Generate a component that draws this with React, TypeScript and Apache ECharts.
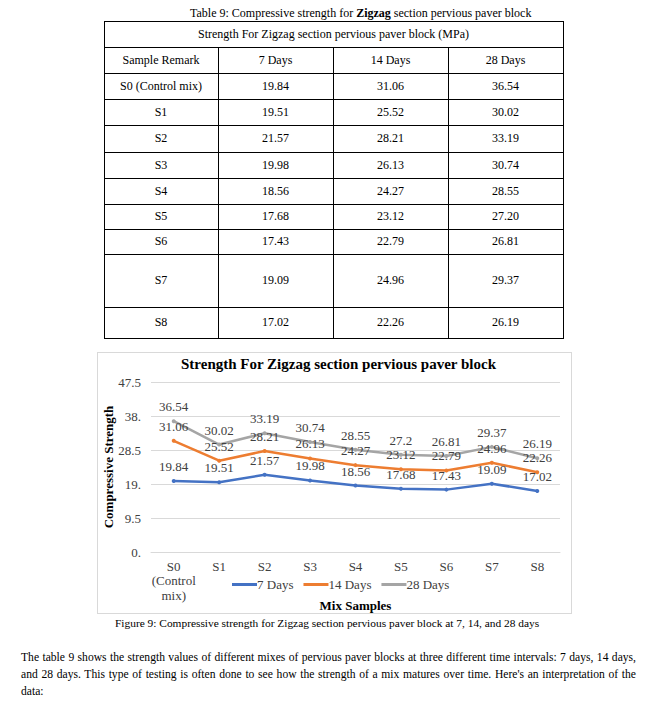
import React, { useEffect, useRef } from "react";
import * as echarts from "echarts";

const samples = ["S0", "S1", "S2", "S3", "S4", "S5", "S6", "S7", "S8"];
const tableRemarks = ["S0 (Control mix)", "S1", "S2", "S3", "S4", "S5", "S6", "S7", "S8"];
const xLabels = ["S0\n(Control\nmix)", "S1", "S2", "S3", "S4", "S5", "S6", "S7", "S8"];
const seriesNames = ["7 Days", "14 Days", "28 Days"];
const days7 = [19.84, 19.51, 21.57, 19.98, 18.56, 17.68, 17.43, 19.09, 17.02];
const days14 = [31.06, 25.52, 28.21, 26.13, 24.27, 23.12, 22.79, 24.96, 22.26];
const days28 = [36.54, 30.02, 33.19, 30.74, 28.55, 27.2, 26.81, 29.37, 26.19];
const yTickLabels = ["0.", "9.5", "19.", "28.5", "38.", "47.5"];
const colors = ["#4472C4", "#ED7D31", "#A5A5A5"];
const paragraphLines = [
  "The table 9 shows the strength values of different mixes of pervious paver blocks at three different time intervals: 7 days, 14 days,",
  "and 28 days. This type of testing is often done to see how the strength of a mix matures over time. Here's an interpretation of the",
  "data:",
];

const SERIF = "'Liberation Serif', 'Times New Roman', serif";

const rowBounds = [21, 47, 73, 99, 125, 152, 178, 204, 229, 254, 307, 338];
const colBounds = [104, 218, 333, 448, 563];

function Chart() {
  const ref = useRef<HTMLDivElement>(null);
  useEffect(() => {
    if (!ref.current) return;
    const chart = echarts.init(ref.current, null, { renderer: "svg" });
    const all = [days7, days14, days28];
    chart.setOption({
      animation: false,
      textStyle: { fontFamily: SERIF },
      title: {
        text: "Strength For Zigzag section pervious paver block",
        left: 83,
        top: 3,
        padding: 0,
        textStyle: { fontFamily: SERIF, fontSize: 15, fontWeight: "bold", color: "#000" },
      },
      grid: { left: 53, right: 11, top: 29, bottom: 61, outerBoundsMode: "none", containLabel: false },
      legend: {
        data: seriesNames.map((n) => ({ name: n, icon: "rect" })),
        top: 220,
        left: 129,
        itemWidth: 25,
        itemHeight: 3,
        itemGap: 10,
        textStyle: { fontFamily: SERIF, fontSize: 13, color: "#404040", padding: [0, 0, 0, -5] },
      },
      xAxis: {
        type: "category",
        data: xLabels,
        boundaryGap: true,
        name: "Mix Samples",
        nameLocation: "middle",
        nameGap: 47,
        nameMoveOverlap: false,
        nameTextStyle: { fontFamily: SERIF, fontSize: 13, fontWeight: "bold", color: "#000" },
        axisLine: { lineStyle: { color: "#D9D9D9" } },
        axisTick: { show: false },
        axisLabel: { fontFamily: SERIF, fontSize: 13, color: "#404040", lineHeight: 14.5, margin: 7, interval: 0 },
      },
      yAxis: {
        type: "value",
        min: 0,
        max: 47.5,
        interval: 9.5,
        name: "Compressive Strength",
        nameLocation: "middle",
        nameGap: 36,
        nameMoveOverlap: false,
        nameTextStyle: { fontFamily: SERIF, fontSize: 13, fontWeight: "bold", color: "#000" },
        axisLine: { show: false },
        axisTick: { show: false },
        splitLine: { lineStyle: { color: "#D9D9D9" } },
        axisLabel: {
          fontFamily: SERIF,
          fontSize: 13,
          color: "#404040",
          margin: 10,
          formatter: (v: number) => yTickLabels[Math.round(v / 9.5)] ?? String(v),
        },
      },
      series: seriesNames.map((name, i) => ({
        name,
        type: "line",
        data: all[i],
        symbol: "circle",
        symbolSize: 4,
        lineStyle: { width: 2.5, color: colors[i] },
        itemStyle: { color: colors[i] },
        label: {
          show: true,
          position: "top",
          distance: 6,
          fontFamily: SERIF,
          fontSize: 13,
          color: "#404040",
        },
      })),
    });
    return () => chart.dispose();
  }, []);
  return <div ref={ref} style={{ width: 473, height: 260 }} />;
}

export default function App() {
  const tableValues = [days7, days14, days28];
  const rows = tableRemarks.map((r, i) => [r, ...tableValues.map((s) => s[i].toFixed(2))]);
  const cellBase: React.CSSProperties = {
    position: "absolute",
    display: "flex",
    alignItems: "center",
    justifyContent: "center",
    fontFamily: SERIF,
    fontSize: 12,
    color: "#000",
  };
  const tableLeft = colBounds[0];
  const tableRight = colBounds[colBounds.length - 1];
  return (
    <div style={{ position: "absolute", left: 0, top: 0, width: 657, height: 701, background: "#fff", overflow: "hidden", fontFamily: SERIF }}>
      <div style={{ position: "absolute", left: 190, top: 5, whiteSpace: "nowrap", fontSize: 12, lineHeight: "16px" }}>
        Table 9: Compressive strength for <b>Zigzag</b> section pervious paver block
      </div>
      {rowBounds.map((y, i) => (
        <div key={"h" + i} style={{ position: "absolute", left: tableLeft, top: y, width: tableRight - tableLeft + 1, height: 1, background: "#000" }} />
      ))}
      {colBounds.map((x, i) => (
        <div
          key={"v" + i}
          style={{
            position: "absolute",
            left: x,
            top: i === 0 || i === colBounds.length - 1 ? rowBounds[0] : rowBounds[1],
            width: 1,
            height: i === 0 || i === colBounds.length - 1 ? rowBounds[rowBounds.length - 1] - rowBounds[0] : rowBounds[rowBounds.length - 1] - rowBounds[1],
            background: "#000",
          }}
        />
      ))}
      <div style={{ ...cellBase, left: tableLeft, top: rowBounds[0], width: tableRight - tableLeft, height: rowBounds[1] - rowBounds[0] }}>
        Strength For Zigzag section pervious paver block (MPa)
      </div>
      {["Sample Remark", ...seriesNames].map((h, c) => (
        <div key={"hd" + c} style={{ ...cellBase, left: colBounds[c], top: rowBounds[1], width: colBounds[c + 1] - colBounds[c], height: rowBounds[2] - rowBounds[1] }}>
          {h}
        </div>
      ))}
      {rows.map((row, r) =>
        row.map((cell, c) => (
          <div
            key={r + "-" + c}
            style={{ ...cellBase, left: colBounds[c], top: rowBounds[r + 2], width: colBounds[c + 1] - colBounds[c], height: rowBounds[r + 3] - rowBounds[r + 2] }}
          >
            {cell}
          </div>
        ))
      )}
      <div style={{ position: "absolute", left: 97, top: 352, width: 473, height: 260, border: "1px solid #D9D9D9", boxSizing: "content-box" }}>
        <Chart />
      </div>
      <div style={{ position: "absolute", left: 115, top: 615, whiteSpace: "nowrap", fontSize: 11.4, lineHeight: "16px" }}>
        Figure 9: Compressive strength for Zigzag section pervious paver block at 7, 14, and 28 days
      </div>
      {paragraphLines.map((line, i) => (
        <div
          key={"p" + i}
          style={{
            position: "absolute",
            left: 21,
            width: 615,
            top: 649 + i * 17,
            fontSize: 11.6,
            lineHeight: "17px",
            whiteSpace: "nowrap",
            textAlign: i < paragraphLines.length - 1 ? "justify" : "left",
            textAlignLast: i < paragraphLines.length - 1 ? "justify" : "left",
          }}
        >
          {line}
        </div>
      ))}
    </div>
  );
}
